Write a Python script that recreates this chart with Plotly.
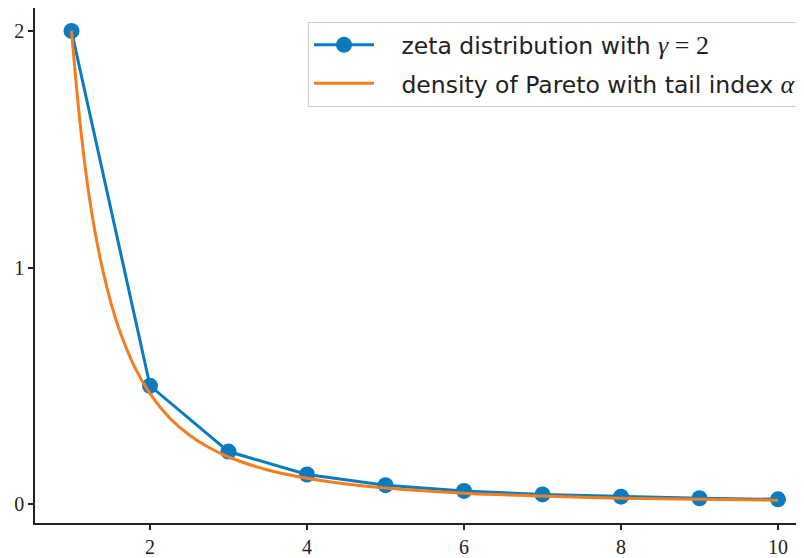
import plotly.graph_objects as go

# zeta pmf points
zeta_k = [1, 2, 3, 4, 5, 6, 7, 8, 9, 10]
zeta_p = [2.0, 0.5, 0.222, 0.125, 0.08, 0.0556, 0.0408, 0.0313, 0.0247, 0.02]

# Pareto density curve (sampled from the chart)
pareto_x = [1.0, 1.1, 1.2, 1.3, 1.4, 1.5, 1.6, 1.8, 2.0, 2.25, 2.5, 2.75, 3.0,
            3.5, 4.0, 4.5, 5.0, 6.0, 7.0, 8.0, 9.0, 10.0]
pareto_y = [2.0, 1.64, 1.36, 1.15, 0.987, 0.854, 0.745, 0.582, 0.467, 0.364,
            0.292, 0.239, 0.199, 0.144, 0.109, 0.085, 0.068, 0.046, 0.034,
            0.025, 0.020, 0.016]

x_ticks = [2, 4, 6, 8, 10]
y_ticks = [0, 1, 2]

BLUE = '#0a7bbf'
ORANGE = '#f47d1f'
SERIF = 'Liberation Serif'
PAD = '\u00a0\u00a0\u00a0'
MATH = "<span style='font-family:Liberation Serif;font-size:26px'>"

fig = go.Figure()
fig.add_trace(go.Scatter(
    x=zeta_k, y=zeta_p, mode='lines+markers',
    name=PAD + "zeta distribution with " + MATH + "<i>γ</i> = 2</span>",
    line=dict(color=BLUE, width=3), marker=dict(size=16, color=BLUE),
    legendgroup='a',
))
fig.add_trace(go.Scatter(
    x=pareto_x, y=pareto_y, mode='lines', line_shape='spline',
    name=PAD + "density of Pareto with tail index " + MATH + "<i>α</i></span>",
    line=dict(color=ORANGE, width=3),
    legendgroup='b',
))

axis_common = dict(
    showline=True, linecolor='#222', linewidth=1.5, showgrid=False, zeroline=False,
    ticks='outside', ticklen=5, tickwidth=1.5, tickcolor='#222', automargin=False,
    tickfont=dict(family=SERIF, size=20, color='#222'),
)
fig.update_xaxes(range=[0.535, 10.331], tickvals=x_ticks, mirror=True, **axis_common)
fig.update_yaxes(range=[-0.08, 2.097], tickvals=y_ticks, **axis_common)

# page body adds an 8px offset, so the figure is 8px smaller than the window
fig.update_layout(
    width=796, height=550,
    margin=dict(l=27, r=0, t=0, b=35),
    plot_bgcolor='white', paper_bgcolor='white',
    showlegend=True,
    legend=dict(
        x=0.9974, y=0.9728, xanchor='right', yanchor='top',
        bgcolor='white', bordercolor='#cccccc', borderwidth=1,
        font=dict(family='DejaVu Sans', size=23.5, color='#222'),
        itemwidth=60, tracegroupgap=5, traceorder='grouped',
    ),
)

fig.write_html('out.html')
